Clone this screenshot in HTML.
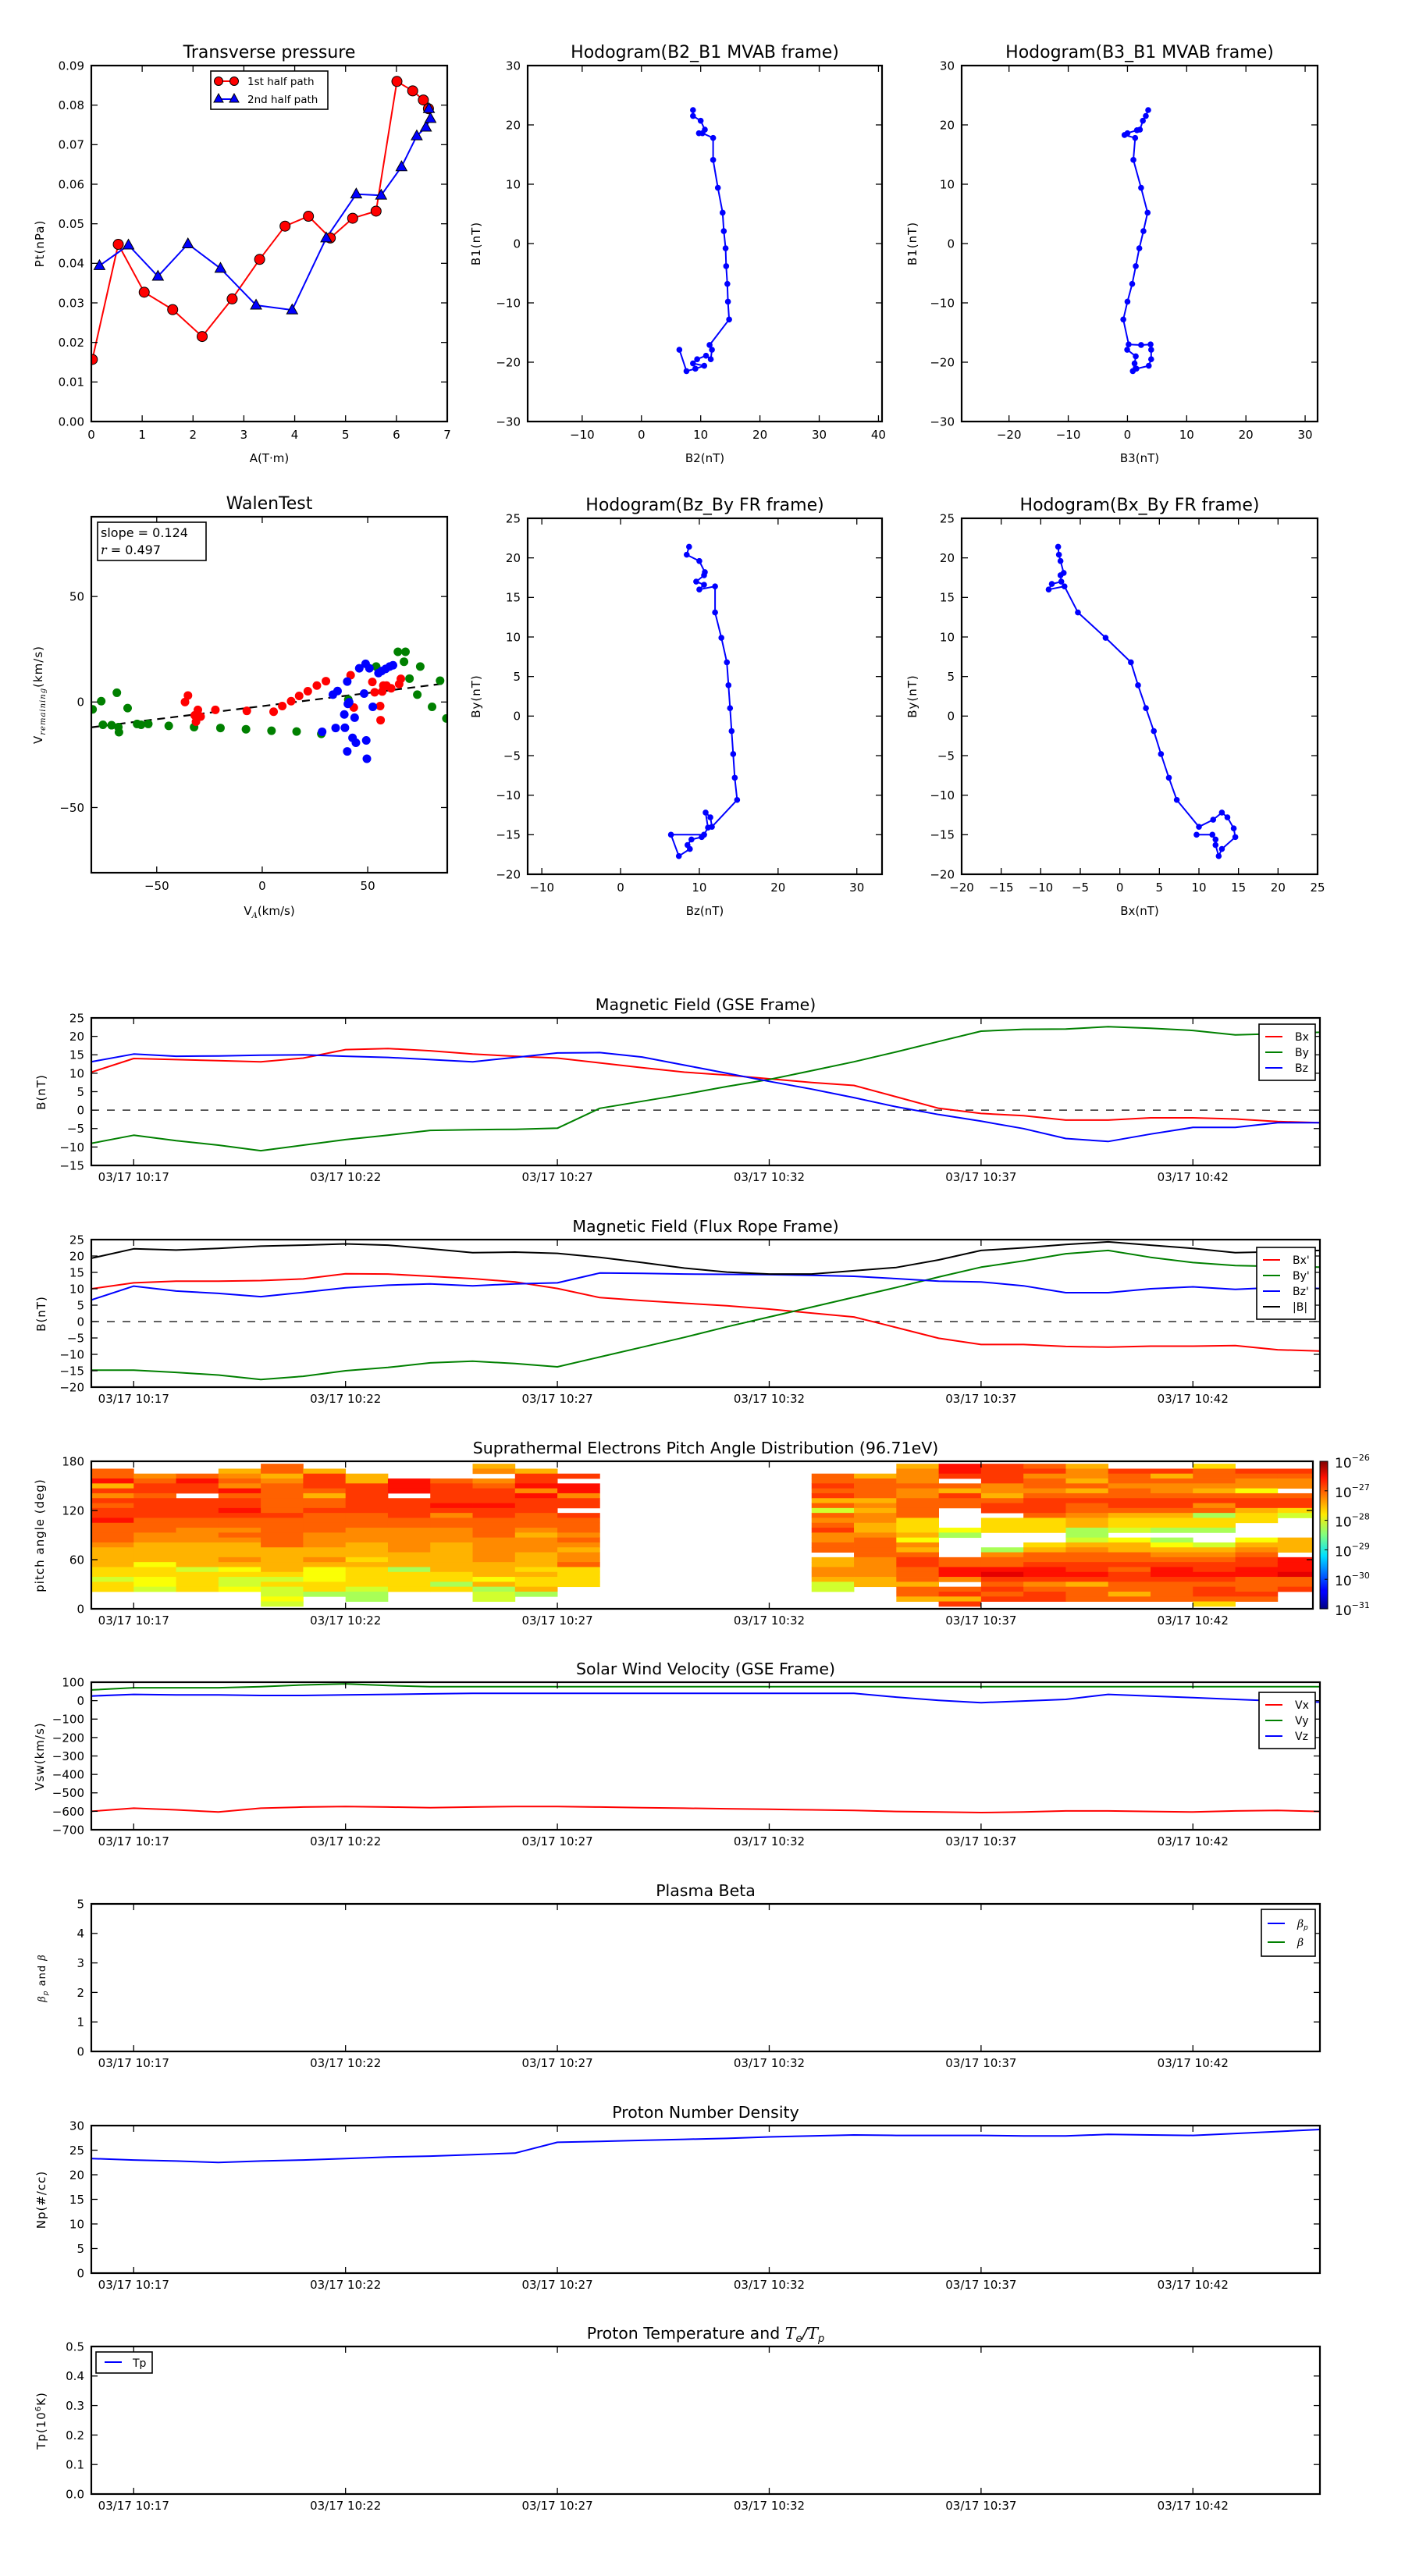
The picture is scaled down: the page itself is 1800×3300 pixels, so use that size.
<!DOCTYPE html>
<html><head><meta charset="utf-8"><title>Flux rope analysis</title>
<style>
html,body{margin:0;padding:0;background:#fff;}
svg{display:block;font-family:"DejaVu Sans","Liberation Sans",sans-serif;}
</style></head>
<body>
<svg id="fig" width="1800" height="3300" viewBox="0 0 1800 3300" xmlns="http://www.w3.org/2000/svg">
<defs>
<linearGradient id="jet" x1="0" y1="1" x2="0" y2="0">
<stop offset="0" stop-color="#000080"/><stop offset="0.11" stop-color="#0000ff"/><stop offset="0.125" stop-color="#0000ff"/>
<stop offset="0.36" stop-color="#00e0ff"/><stop offset="0.5" stop-color="#80ff80"/><stop offset="0.64" stop-color="#ffea00"/>
<stop offset="0.89" stop-color="#ff1000"/><stop offset="1" stop-color="#800000"/>
</linearGradient>
</defs>
</svg>
<script>
// ---------------- data ----------------
const minutes = [0,1,2,3,4,5,6,7,8,9,10,11,12,13,14,15,16,17,18,19,20,21,22,23,24,25,26,27,28,29];
const timeTickMin = [1,6,11,16,21,26];
const timeTickLbl = ["03/17 10:17","03/17 10:22","03/17 10:27","03/17 10:32","03/17 10:37","03/17 10:42"];

const ptA1 = [0.02,0.53,1.04,1.60,2.18,2.77,3.31,3.81,4.27,4.70,5.14,5.60,6.01,6.32,6.53,6.63];
const ptP1 = [0.0157,0.0448,0.0327,0.0283,0.0215,0.0310,0.0410,0.0494,0.0519,0.0464,0.0514,0.0532,0.0860,0.0836,0.0813,0.0791];
const ptA2 = [0.16,0.73,1.31,1.90,2.54,3.24,3.95,4.62,5.21,5.70,6.10,6.40,6.58,6.67,6.64];
const ptP2 = [0.0394,0.0446,0.0367,0.0449,0.0387,0.0294,0.0282,0.0464,0.0575,0.0572,0.0644,0.0722,0.0744,0.0766,0.0791];

const h21B2 = [8.7,8.7,10.0,10.7,9.7,10.3,12.1,12.1,12.9,13.7,13.9,14.2,14.3,14.5,14.6,14.8,11.5,11.9,11.7,10.9,9.4,8.7,10.6,9.1,7.6,6.4];
const h21B1 = [22.5,21.5,20.7,19.2,18.6,18.6,17.8,14.1,9.4,5.2,2.1,-0.8,-3.8,-6.8,-9.8,-12.8,-17.1,-17.9,-19.5,-18.9,-19.5,-20.2,-20.6,-21.1,-21.5,-17.9];
const h31B3 = [3.5,3.1,2.6,2.1,1.6,0.0,-0.5,1.3,1.0,2.3,3.4,2.7,2.0,1.4,0.8,0.0,-0.7,0.2,2.3,3.9,4.0,4.0,3.6,1.5,0.9,1.2,1.4,-0.05];
const h31B1 = [22.5,21.5,20.7,19.2,19.1,18.6,18.3,17.8,14.1,9.4,5.2,2.1,-0.8,-3.8,-6.8,-9.8,-12.8,-17.0,-17.1,-17.0,-17.9,-19.5,-20.6,-21.1,-21.5,-20.2,-19.0,-17.9];

const wGreenX = [-80.4,-76.3,-75.5,-71.4,-68.9,-68.2,-67.9,-63.8,-59.3,-57.4,-54,-44.3,-32.3,-19.8,-7.7,4.4,16.3,28,40.8,54,64.3,67.9,67.2,69.8,74.9,73.5,80.5,84.3,87.3];
const wGreenY = [-3.5,0.4,-10.8,-11,4.4,-11.9,-14.3,-2.9,-10.4,-10.8,-10.4,-11.3,-11.9,-12.3,-12.9,-13.6,-14,-15.1,1.2,16.8,23.8,23.8,19.1,11.1,16.8,3.5,-2.3,10.1,-7.8];
const wRedX = [-36.6,-35.2,-32,-30.5,-31.4,-29.2,-22.2,-7.3,5.4,9.5,13.7,17.5,21.6,25.9,30.2,41.9,43.4,52.2,53.3,55.9,56.1,56.9,57.4,58.9,61.1,64.9,65.7];
const wRedY = [0,3.1,-6.3,-3.7,-9.3,-6.9,-3.7,-4.2,-4.6,-1.9,0.4,2.9,5.1,7.8,9.9,12.7,-2.6,9.5,4.6,-1.9,-8.6,5,7.8,7.8,6.5,8.5,11];
const wBlueX = [28.4,33.5,35.7,34.8,38.9,39.2,40.3,40.6,41.2,40.3,42.8,43.8,44.4,46,48.3,49,49.3,49.6,50.8,52.4,55.1,56.6,58.5,60.4,62];
const wBlueY = [-14.1,3.5,5.2,-12.3,-5.9,-12.2,9.7,-0.9,-0.1,-23.4,-17,-7.4,-19.3,16,4,18.1,-18.2,-26.9,16,-2.3,13.7,14.7,15.7,16.8,17.4];
const walenSlope = [0.124];
const walenIntercept = [-1.95];

const hzBz = [8.7,8.4,10.0,10.7,10.6,9.6,10.6,10.0,12.0,12.0,12.8,13.5,13.7,13.9,14.1,14.3,14.5,14.8,11.6,11.4,10.8,11.1,10.6,10.3,9.0,8.5,8.8,7.4,6.4,10.6];
const hzBy = [21.4,20.4,19.6,18.2,17.8,17.0,16.6,16.0,16.4,13.1,9.9,6.8,3.9,1.0,-1.9,-4.8,-7.8,-10.6,-14.0,-12.8,-12.2,-14.1,-15.0,-15.3,-15.6,-16.3,-16.8,-17.7,-15.0,-15.0];
const hxBx = [-7.8,-7.7,-7.5,-7.1,-7.5,-7.4,-8.6,-9.0,-7.0,-5.3,-1.8,1.4,2.3,3.3,4.3,5.2,6.2,7.2,10.0,11.8,12.9,13.6,14.4,14.6,12.9,12.5,12.1,12.1,11.7,9.7];
const hxBy = [21.4,20.4,19.6,18.1,17.8,17.0,16.7,16.0,16.4,13.1,9.9,6.8,3.9,1.0,-1.9,-4.8,-7.8,-10.6,-14.0,-13.1,-12.2,-12.8,-14.2,-15.3,-16.8,-17.7,-16.3,-15.6,-15.0,-15.0];

const gseBx = [10.3,14.0,13.7,13.4,13.1,14.1,16.4,16.7,16.1,15.2,14.6,14.1,12.8,11.5,10.3,9.5,8.5,7.5,6.7,3.6,0.5,-0.9,-1.5,-2.7,-2.7,-2.1,-2.1,-2.4,-3.1,-3.4];
const gseBy = [-9.0,-6.8,-8.3,-9.5,-11.0,-9.5,-8.0,-6.8,-5.5,-5.3,-5.2,-4.9,0.5,2.4,4.3,6.4,8.3,10.7,13.1,15.8,18.6,21.4,21.9,22.0,22.6,22.2,21.6,20.4,20.7,21.1];
const gseBz = [13.1,15.2,14.6,14.7,14.9,15.0,14.6,14.3,13.7,13.1,14.3,15.5,15.6,14.4,12.2,10.0,7.8,5.7,3.4,0.9,-1.2,-3.0,-5.0,-7.7,-8.5,-6.5,-4.7,-4.7,-3.4,-3.4];

const frBx = [10,11.8,12.3,12.3,12.5,13,14.6,14.5,13.8,13.1,12.1,10.1,7.3,6.4,5.6,4.8,3.8,2.6,1.4,-1.8,-5.1,-7,-7,-7.6,-7.8,-7.5,-7.5,-7.3,-8.6,-9];
const frBy = [-14.8,-14.8,-15.5,-16.3,-17.7,-16.7,-15,-14,-12.6,-12.1,-12.8,-13.8,-10.8,-7.8,-4.8,-1.6,1.4,4.4,7.4,10.4,13.6,16.6,18.5,20.7,21.7,19.6,18,17.1,16.8,16.6];
const frBz = [6.6,10.8,9.3,8.6,7.6,8.9,10.3,11.1,11.5,10.9,11.5,11.8,14.8,14.7,14.5,14.4,14.3,14.1,13.8,13.1,12.3,12.1,10.9,8.8,8.8,10,10.6,9.8,10.4,10.1];
const frBt = [19.3,22.2,21.8,22.3,23,23.3,23.7,23.3,22.2,21,21.2,20.8,19.6,18,16.3,15.1,14.5,14.5,15.5,16.5,18.8,21.7,22.5,23.5,24.3,23.3,22.3,21,21.3,21.7];

const padColStart = [0,1,2,3,4,5,6,7,8,9,10,11,17,18,19,20,21,22,23,24,25,26,27,28];
const padCols = [
"..3315242322133334555566866....",
"...432232222333445555766778....",
"...3122.2222334445555586666....",
"..5434132212334345554576887....",
".33543333332333333555556868878.",
"..52223533233334445545777669...",
"...55222222333444555656666899..",
"....111.2222334444455596666....",
"....32222124334445555556696....",
".54.4322212233334444455575988..",
"..52214122233345444555656659...",
"...2.11422.233343454436666.....",
"...3323253834324433.5544588....",
"...53333545445543333444455.....",
".5444344333366657453223335335..",
".112.35233....79....33114.3252.",
".2222445322.666...94331023232..",
".32433432223666..653321124322..",
".5445353233455998543322125333..",
"..2334332235668.7553323223353..",
"..2534432235669.9754321123333..",
".63334532439669..8543221232236.",
"..23447322566...7543221133323..",
"..2344.32268....555.1110332...."];

const vx = [-600,-583,-592,-604,-583,-577,-574,-577,-580,-577,-574,-574,-577,-580,-583,-586,-589,-592,-595,-601,-604,-607,-604,-598,-598,-601,-604,-598,-595,-601];
const vy = [58,70,70,70,76,85,91,82,76,76,76,76,76,76,76,76,76,76,76,76,76,76,76,76,76,76,76,76,76,76];
const vz = [25,34,31,31,28,28,31,34,37,40,40,40,40,40,40,40,40,40,40,19,2,-11,-2,7,34,25,16,7,-2,-8];

const np = [23.3,23.0,22.8,22.5,22.8,23.0,23.3,23.6,23.8,24.1,24.4,26.6,26.8,27.0,27.2,27.4,27.7,27.9,28.1,28.0,28.0,28.0,27.9,27.9,28.2,28.1,28.0,28.4,28.8,29.2];

// ---------------- helpers ----------------
const NS = 'http://www.w3.org/2000/svg';
const svg = document.getElementById('fig');
function mk(tag, attrs, parent) {
  const e = document.createElementNS(NS, tag);
  for (const k in attrs) e.setAttribute(k, attrs[k]);
  (parent || svg).appendChild(e);
  return e;
}
function lin(d0, d1, r0, r1) { return v => r0 + (v - d0) * (r1 - r0) / (d1 - d0); }
function fmt(v, dec) { const s = Math.abs(v).toFixed(dec); return (v < 0 ? '\u2212' : '') + s; }
let clipId = 0;

function makeAxes(name, x0, y0, x1, y1, xd, yd) {
  const g = mk('g', {});
  
  
  const cid = 'clip' + (clipId++);
  const cp = mk('clipPath', { id: cid }, g);
  mk('rect', { x: x0, y: y0, width: x1 - x0, height: y1 - y0 }, cp);
  const data = mk('g', { 'clip-path': 'url(#' + cid + ')' }, g);
  
  
  return { g, data, x0, y0, x1, y1, sx: lin(xd[0], xd[1], x0, x1), sy: lin(yd[0], yd[1], y1, y0) };
}
function finishAxes(ax, xt, xl, yt, yl, fs, xoff) {
  const tg = mk('g', { stroke: '#000', 'stroke-width': 1.3 }, ax.g);
  
  
  xt.forEach((v, i) => {
    const x = ax.sx(v);
    mk('line', { x1: x, y1: ax.y1, x2: x, y2: ax.y1 - 8 }, tg);
    mk('line', { x1: x, y1: ax.y0, x2: x, y2: ax.y0 + 8 }, tg);
    const t = mk('text', { x: x, y: ax.y1 + xoff, 'font-size': fs, 'text-anchor': 'middle', fill: '#000', stroke: 'none' }, ax.g);
    t.textContent = xl[i];
    
    
  });
  yt.forEach((v, i) => {
    const y = ax.sy(v);
    mk('line', { x1: ax.x0, y1: y, x2: ax.x0 + 8, y2: y }, tg);
    mk('line', { x1: ax.x1, y1: y, x2: ax.x1 - 8, y2: y }, tg);
    const t = mk('text', { x: ax.x0 - 9, y: y + fs * 0.36, 'font-size': fs, 'text-anchor': 'end', fill: '#000' }, ax.g);
    t.textContent = yl[i];
    
    
  });
  const fr = mk('rect', { x: ax.x0, y: ax.y0, width: ax.x1 - ax.x0, height: ax.y1 - ax.y0, fill: 'none', stroke: '#000', 'stroke-width': 2.2 }, ax.g);
  
  
}
function title(txt, x, y, fs, name) {
  const t = mk('text', { x: x, y: y, 'font-size': fs, 'text-anchor': 'middle', fill: '#000' });
  t.textContent = txt;
  
  
  return t;
}
function ylabel(txt, x, y, fs, name) {
  const t = mk('text', { x: x, y: y, 'font-size': fs, 'text-anchor': 'middle', fill: '#000', transform: 'rotate(-90 ' + x + ' ' + y + ')', 'letter-spacing': 1 });
  t.textContent = txt;
  
  
  return t;
}
function polyline(ax, xs, ys, color, name, w) {
  const pts = xs.map((x, i) => ax.sx(x).toFixed(1) + ',' + ax.sy(ys[i]).toFixed(1)).join(' ');
  const p = mk('polyline', { points: pts, fill: 'none', stroke: color, 'stroke-width': w || 2, 'stroke-linejoin': 'round' }, ax.data);
  
  
  return p;
}
function dots(ax, xs, ys, color, r, name, stroke) {
  xs.forEach((x, i) => {
    const c = mk('circle', { cx: ax.sx(x), cy: ax.sy(ys[i]), r: r, fill: color, stroke: stroke || 'none', 'stroke-width': 1 }, ax.data);
    
    
  });
}
function range(a, b, s) { const o = []; for (let v = a; v <= b + 1e-9; v += s) o.push(+v.toFixed(6)); return o; }

// ---------------- row 1 ----------------
// Transverse pressure
{
  const ax = makeAxes('transverse-pressure-chart', 117, 84, 573, 540, [0, 7], [0, 0.09]);
  polyline(ax, ptA1, ptP1, '#ff0000', 'series-1st-half-line');
  polyline(ax, ptA2, ptP2, '#0000ff', 'series-2nd-half-line');
  dots(ax, ptA1, ptP1, '#ff0000', 6.5, 'marker-1st-half', '#000');
  ptA2.forEach((a, i) => {
    const x = ax.sx(a), y = ax.sy(ptP2[i]);
    const t = mk('polygon', { points: `${x},${y - 7.5} ${x - 7},${y + 5} ${x + 7},${y + 5}`, fill: '#0000ff', stroke: '#000', 'stroke-width': 1 }, ax.data);
    
    
  });
  const yt = range(0, 0.09, 0.01);
  finishAxes(ax, range(0, 7, 1), range(0, 7, 1).map(String), yt, yt.map(v => v.toFixed(2)), 15, 22);
  const lg = mk('g', {}, ax.g);
  
  
  mk('rect', { x: 270, y: 91, width: 150, height: 49, fill: '#fff', stroke: '#000', 'stroke-width': 1.6 }, lg);
  mk('line', { x1: 280, y1: 104, x2: 300, y2: 104, stroke: '#ff0000', 'stroke-width': 2 }, lg);
  mk('circle', { cx: 280, cy: 104, r: 5.5, fill: '#ff0000', stroke: '#000' }, lg);
  mk('circle', { cx: 300, cy: 104, r: 5.5, fill: '#ff0000', stroke: '#000' }, lg);
  mk('line', { x1: 280, y1: 127, x2: 300, y2: 127, stroke: '#0000ff', 'stroke-width': 2 }, lg);
  mk('polygon', { points: '280,120 274,131 286,131', fill: '#0000ff', stroke: '#000' }, lg);
  mk('polygon', { points: '300,120 294,131 306,131', fill: '#0000ff', stroke: '#000' }, lg);
  const l1 = mk('text', { x: 317, y: 109, 'font-size': 13.5 }, lg); l1.textContent = '1st half path';
  const l2 = mk('text', { x: 317, y: 132, 'font-size': 13.5 }, lg); l2.textContent = '2nd half path';
  title('Transverse pressure', 345, 74, 22, 'pressure-title');
  ylabel('Pt(nPa)', 56, 312, 15, 'pressure-y-label');
  title('A(T\u00b7m)', 345, 592, 15, 'pressure-x-label');
}
// Hodogram B2_B1
{
  const ax = makeAxes('hodogram-b2-b1-chart', 676, 84, 1130, 540, [-19.2, 40.6], [-30, 30]);
  polyline(ax, h21B2, h21B1, '#0000ff', 'hodogram-b2-b1-line');
  dots(ax, h21B2, h21B1, '#0000ff', 3.8, 'hodogram-point');
  const xt = range(-10, 40, 10), yt = range(-30, 30, 10);
  finishAxes(ax, xt, xt.map(v => fmt(v, 0)), yt, yt.map(v => fmt(v, 0)), 15, 22);
  title('Hodogram(B2_B1 MVAB frame)', 903, 74, 22, 'hodogram-b2-b1-title');
  ylabel('B1(nT)', 615, 312, 15, 'hodogram-b2-b1-y-label');
  title('B2(nT)', 903, 592, 15, 'hodogram-b2-b1-x-label');
}
// Hodogram B3_B1
{
  const ax = makeAxes('hodogram-b3-b1-chart', 1232, 84, 1688, 540, [-28, 32.1], [-30, 30]);
  polyline(ax, h31B3, h31B1, '#0000ff', 'hodogram-b3-b1-line');
  dots(ax, h31B3, h31B1, '#0000ff', 3.8, 'hodogram-point');
  const xt = range(-20, 30, 10), yt = range(-30, 30, 10);
  finishAxes(ax, xt, xt.map(v => fmt(v, 0)), yt, yt.map(v => fmt(v, 0)), 15, 22);
  title('Hodogram(B3_B1 MVAB frame)', 1460, 74, 22, 'hodogram-b3-b1-title');
  ylabel('B1(nT)', 1174, 312, 15, 'hodogram-b3-b1-y-label');
  title('B3(nT)', 1460, 592, 15, 'hodogram-b3-b1-x-label');
}
// ---------------- row 2 ----------------
// Walen test
{
  const ax = makeAxes('walen-test-chart', 117, 662, 573, 1118, [-81, 87.7], [-80.9, 87.8]);
  const lx = [-81, 87.7];
  const ln = mk('line', { x1: ax.sx(lx[0]), y1: ax.sy(walenSlope[0] * lx[0] + walenIntercept[0]), x2: ax.sx(lx[1]), y2: ax.sy(walenSlope[0] * lx[1] + walenIntercept[0]), stroke: '#000', 'stroke-width': 2.2, 'stroke-dasharray': '10,7' }, ax.data);
  
  
  dots(ax, wGreenX, wGreenY, '#008000', 5.5, 'walen-point-green');
  dots(ax, wRedX, wRedY, '#ff0000', 5.5, 'walen-point-red');
  dots(ax, wBlueX, wBlueY, '#0000ff', 5.5, 'walen-point-blue');
  const t = [-50, 0, 50];
  finishAxes(ax, t, t.map(v => fmt(v, 0)), t, t.map(v => fmt(v, 0)), 15, 22);
  const bx = mk('g', {}, ax.g);
  
  
  mk('rect', { x: 125, y: 669, width: 139, height: 49, fill: '#fff', stroke: '#000', 'stroke-width': 1.6 }, bx);
  const s1 = mk('text', { x: 129, y: 688, 'font-size': 16 }, bx); s1.textContent = 'slope = 0.124';
  const s2 = mk('text', { x: 129, y: 710, 'font-size': 16 }, bx);
  s2.innerHTML = '<tspan font-family="DejaVu Serif" font-style="italic">r</tspan> = 0.497';
  title('WalenTest', 345, 652, 22, 'walen-title');
  const yl = ylabel('', 54, 890, 15, 'walen-y-label');
  yl.innerHTML = 'V<tspan font-size="10" dy="4" font-style="italic" font-family="DejaVu Serif">remaining</tspan><tspan dy="-4">(km/s)</tspan>';
  const xl = title('', 345, 1172, 15, 'walen-x-label');
  xl.innerHTML = 'V<tspan font-size="10" dy="4" font-style="italic" font-family="DejaVu Serif">A</tspan><tspan dy="-4">(km/s)</tspan>';
}
// Hodogram Bz_By
{
  const ax = makeAxes('hodogram-bz-by-chart', 676, 664, 1130, 1120, [-11.8, 33.2], [-20, 25]);
  polyline(ax, hzBz, hzBy, '#0000ff', 'hodogram-bz-by-line');
  dots(ax, hzBz, hzBy, '#0000ff', 3.8, 'hodogram-point');
  const xt = range(-10, 30, 10), yt = range(-20, 25, 5);
  finishAxes(ax, xt, xt.map(v => fmt(v, 0)), yt, yt.map(v => fmt(v, 0)), 15, 22);
  title('Hodogram(Bz_By FR frame)', 903, 654, 22, 'hodogram-bz-by-title');
  ylabel('By(nT)', 615, 892, 15, 'hodogram-bz-by-y-label');
  title('Bz(nT)', 903, 1172, 15, 'hodogram-bz-by-x-label');
}
// Hodogram Bx_By
{
  const ax = makeAxes('hodogram-bx-by-chart', 1232, 664, 1688, 1120, [-20, 25], [-20, 25]);
  polyline(ax, hxBx, hxBy, '#0000ff', 'hodogram-bx-by-line');
  dots(ax, hxBx, hxBy, '#0000ff', 3.8, 'hodogram-point');
  const xt = range(-20, 25, 5), yt = range(-20, 25, 5);
  finishAxes(ax, xt, xt.map(v => fmt(v, 0)), yt, yt.map(v => fmt(v, 0)), 15, 22);
  title('Hodogram(Bx_By FR frame)', 1460, 654, 22, 'hodogram-bx-by-title');
  ylabel('By(nT)', 1174, 892, 15, 'hodogram-bx-by-y-label');
  title('Bx(nT)', 1460, 1172, 15, 'hodogram-bx-by-x-label');
}

// ---------------- time series ----------------
const TS_X0 = 117, TS_X1 = 1691, TS_H = 189;
const tops = [1304, 1588, 1872, 2155, 2439, 2723, 3006];
function tsAxes(name, top, yd, x1) {
  return makeAxes(name, TS_X0, top, x1 || TS_X1, top + TS_H, [0, ((x1 || TS_X1) - TS_X0) / 54.28], yd);
}
function tsFinish(ax, yt, yl) { finishAxes(ax, timeTickMin, timeTickLbl, yt, yl, 15, 20); }
function zeroLine(ax) {
  const l = mk('line', { x1: ax.x0, x2: ax.x1, y1: ax.sy(0), y2: ax.sy(0), stroke: '#000', 'stroke-width': 1.3, 'stroke-dasharray': '10,10' }, ax.data);
  
  
}
function legend(name, x, y, w, entries, rowH, fs) {
  const g = mk('g', {});
  
  
  mk('rect', { x: x, y: y, width: w, height: entries.length * rowH + 12, fill: '#fff', stroke: '#000', 'stroke-width': 1.6 }, g);
  entries.forEach((e, i) => {
    const yy = y + 12 + rowH * (i + 0.5);
    const it = mk('g', {}, g);
    
    
    mk('line', { x1: x + 8, x2: x + 30, y1: yy - 6, y2: yy - 6, stroke: e[1], 'stroke-width': 2 }, it);
    const t = mk('text', { x: x + 46, y: yy - 1, 'font-size': fs }, it);
    t.innerHTML = e[0];
  });
  return g;
}

// GSE
{
  const ax = tsAxes('magnetic-field-gse-chart', tops[0], [-15, 25]);
  zeroLine(ax);
  polyline(ax, minutes, gseBx, '#ff0000', 'series-bx');
  polyline(ax, minutes, gseBy, '#008000', 'series-by');
  polyline(ax, minutes, gseBz, '#0000ff', 'series-bz');
  const yt = range(-15, 25, 5);
  tsFinish(ax, yt, yt.map(v => fmt(v, 0)));
  title('Magnetic Field (GSE Frame)', 904, tops[0] - 10, 20.5, 'gse-title');
  ylabel('B(nT)', 58, tops[0] + 95, 15, 'gse-y-label');
  legend('gse-legend', 1613, 1312, 72, [['Bx', '#ff0000'], ['By', '#008000'], ['Bz', '#0000ff']], 20, 14);
}
// Flux rope
{
  const ax = tsAxes('magnetic-field-flux-rope-chart', tops[1], [-20, 25]);
  zeroLine(ax);
  polyline(ax, minutes, frBx, '#ff0000', 'series-bx-prime');
  polyline(ax, minutes, frBy, '#008000', 'series-by-prime');
  polyline(ax, minutes, frBz, '#0000ff', 'series-bz-prime');
  polyline(ax, minutes, frBt, '#000000', 'series-b-magnitude');
  const yt = range(-20, 25, 5);
  tsFinish(ax, yt, yt.map(v => fmt(v, 0)));
  title('Magnetic Field (Flux Rope Frame)', 904, tops[1] - 10, 20.5, 'flux-rope-title');
  ylabel('B(nT)', 58, tops[1] + 95, 15, 'flux-rope-y-label');
  legend('flux-rope-legend', 1610, 1598, 75, [["Bx'", '#ff0000'], ["By'", '#008000'], ["Bz'", '#0000ff'], ['|B|', '#000000']], 20, 14);
}
// PAD
{
  const ax = tsAxes('pitch-angle-distribution-chart', tops[2], [0, 180], 1682);
  const jet = t => {
    const c = v => Math.round(255 * Math.max(0, Math.min(1, v)));
    return `rgb(${c(1.5 - Math.abs(4 * t - 3))},${c(1.5 - Math.abs(4 * t - 2))},${c(1.5 - Math.abs(4 * t - 1))})`;
  };
  padCols.forEach((col, ci) => {
    const m = padColStart[ci];
    for (let k = 0; k < 31; k++) {
      const ch = col[k];
      if (!ch || ch === '.') continue;
      const logv = -31 + 5 * (0.9 - 0.04 * (+ch));
      const t = (logv + 31) / 5;
      const c = 180 - 6 * k;
      const top = Math.min(180, c + 3), bot = Math.max(0, c - 3);
      const r = mk('rect', { x: ax.sx(m), y: ax.sy(top), width: ax.sx(m + 1) - ax.sx(m) + 0.4, height: ax.sy(bot) - ax.sy(top) + 0.4, fill: jet(t) }, ax.data);
      
      
    }
  });
  const yt = [0, 60, 120, 180];
  tsFinish(ax, yt, yt.map(String));
  title('Suprathermal Electrons Pitch Angle Distribution (96.71eV)', 904, tops[2] - 10, 20.5, 'pad-title');
  ylabel('pitch angle (deg)', 56, tops[2] + 95, 15, 'pad-y-label');
  const cb = mk('rect', { x: 1691, y: tops[2], width: 10, height: TS_H, fill: 'url(#jet)', stroke: '#000', 'stroke-width': 1 });
  
  
  for (let i = 0; i <= 5; i++) {
    const y = tops[2] + i * TS_H / 5;
    mk('line', { x1: 1697, x2: 1701, y1: y, y2: y, stroke: '#000' });
    const t = mk('text', { x: 1710, y: y + 8, 'font-size': 17 });
    t.innerHTML = '10<tspan dy="-9" font-size="11">\u2212' + (26 + i) + '</tspan>';
    
    
  }
}
// Vsw
{
  const ax = tsAxes('solar-wind-velocity-chart', tops[3], [-700, 100]);
  polyline(ax, minutes, vx, '#ff0000', 'series-vx');
  polyline(ax, minutes, vy, '#008000', 'series-vy');
  polyline(ax, minutes, vz, '#0000ff', 'series-vz');
  const yt = range(-700, 100, 100);
  tsFinish(ax, yt, yt.map(v => fmt(v, 0)));
  title('Solar Wind Velocity (GSE Frame)', 904, tops[3] - 10, 20.5, 'vsw-title');
  ylabel('Vsw(km/s)', 56, tops[3] + 95, 15, 'vsw-y-label');
  legend('vsw-legend', 1613, 2168, 72, [['Vx', '#ff0000'], ['Vy', '#008000'], ['Vz', '#0000ff']], 20, 14);
}
// Beta
{
  const ax = tsAxes('plasma-beta-chart', tops[4], [0, 5]);
  const yt = range(0, 5, 1);
  tsFinish(ax, yt, yt.map(String));
  title('Plasma Beta', 904, tops[4] - 10, 20.5, 'beta-title');
  const yl = ylabel('', 58, tops[4] + 95, 13, 'beta-y-label');
  yl.innerHTML = '<tspan font-style="italic" font-family="DejaVu Serif">\u03b2</tspan><tspan font-size="9" font-style="italic" dy="3">p</tspan><tspan dy="-3"> and </tspan><tspan font-style="italic" font-family="DejaVu Serif">\u03b2</tspan>';
  legend('beta-legend', 1616, 2446, 69, [['<tspan font-style="italic" font-family="DejaVu Serif">\u03b2</tspan><tspan font-size="9" dy="3" font-style="italic">p</tspan>', '#0000ff'], ['<tspan font-style="italic" font-family="DejaVu Serif">\u03b2</tspan>', '#008000']], 24, 14);
}
// Np
{
  const ax = tsAxes('proton-density-chart', tops[5], [0, 30]);
  polyline(ax, minutes, np, '#0000ff', 'series-np');
  const yt = range(0, 30, 5);
  tsFinish(ax, yt, yt.map(String));
  title('Proton Number Density', 904, tops[5] - 10, 20.5, 'np-title');
  ylabel('Np(#/cc)', 58, tops[5] + 95, 15, 'np-y-label');
}
// Tp
{
  const ax = tsAxes('proton-temperature-chart', tops[6], [0, 0.5]);
  const yt = range(0, 0.5, 0.1);
  tsFinish(ax, yt, yt.map(v => v.toFixed(1)));
  const t = title('', 904, tops[6] - 10, 20.5, 'tp-title');
  t.innerHTML = 'Proton Temperature and <tspan font-style="italic" font-family="DejaVu Serif">T</tspan><tspan font-size="13" dy="4" font-style="italic">e</tspan><tspan dy="-4" font-style="italic" font-family="DejaVu Serif">/T</tspan><tspan font-size="13" dy="4" font-style="italic">p</tspan>';
  const yl = ylabel('', 58, tops[6] + 95, 15, 'tp-y-label');
  yl.innerHTML = 'Tp(10<tspan font-size="10" dy="-6">6</tspan><tspan dy="6">K)</tspan>';
  const lg = mk('g', {});
  
  
  mk('rect', { x: 123, y: 3013, width: 72, height: 27, fill: '#fff', stroke: '#000', 'stroke-width': 1.6 }, lg);
  mk('line', { x1: 134, x2: 156, y1: 3026, y2: 3026, stroke: '#0000ff', 'stroke-width': 2 }, lg);
  const lt = mk('text', { x: 170, y: 3032, 'font-size': 14 }, lg); lt.textContent = 'Tp';
}
</script>
</body></html>
